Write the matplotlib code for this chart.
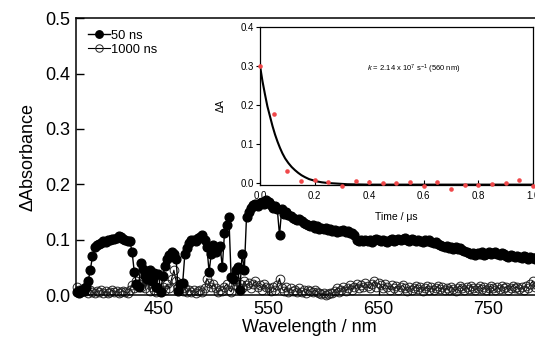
import numpy as np
import matplotlib
matplotlib.use("Agg")
import matplotlib.pyplot as plt

plt.rcParams['font.family'] = ['Liberation Sans', 'DejaVu Sans']
plt.rcParams['mathtext.fontset'] = 'custom'
plt.rcParams['mathtext.rm'] = 'Liberation Sans'
plt.rcParams['mathtext.it'] = 'Liberation Sans:italic'

# wavelength grid, nm
wavelength = np.arange(376, 796, 2)

# transient absorption 50 ns after excitation (rows of 10 points, 20 nm each)
abs_50ns = [
    0.005, 0.003, 0.010, 0.008, 0.015, 0.025, 0.045, 0.070, 0.087, 0.090,  # 376
    0.092, 0.095, 0.097, 0.096, 0.099, 0.100, 0.102, 0.101, 0.104, 0.106,  # 396
    0.105, 0.102, 0.100, 0.098, 0.097, 0.078, 0.042, 0.020, 0.015, 0.058,  # 416
    0.048, 0.035, 0.030, 0.045, 0.025, 0.040, 0.015, 0.038, 0.006, 0.035,  # 436
    0.052, 0.066, 0.073, 0.077, 0.075, 0.065, 0.008, 0.020, 0.022, 0.075,  # 456
    0.085, 0.095, 0.099, 0.100, 0.098, 0.103, 0.105, 0.108, 0.100, 0.087,  # 476
    0.042, 0.075, 0.090, 0.078, 0.085, 0.088, 0.051, 0.112, 0.126, 0.141,  # 496
    0.033, 0.030, 0.045, 0.051, 0.009, 0.075, 0.045, 0.141, 0.150, 0.158,  # 516
    0.162, 0.165, 0.160, 0.166, 0.168, 0.165, 0.171, 0.168, 0.163, 0.158,  # 536
    0.160, 0.155, 0.108, 0.155, 0.147, 0.150, 0.145, 0.142, 0.140, 0.138,  # 556
    0.135, 0.137, 0.133, 0.130, 0.128, 0.126, 0.124, 0.126, 0.122, 0.125,  # 576
    0.120, 0.122, 0.119, 0.121, 0.118, 0.120, 0.115, 0.117, 0.114, 0.116,  # 596
    0.115, 0.117, 0.114, 0.116, 0.113, 0.112, 0.108, 0.100, 0.098, 0.100,  # 616
    0.097, 0.099, 0.098, 0.100, 0.096, 0.099, 0.101, 0.099, 0.097, 0.100,  # 636
    0.098, 0.096, 0.099, 0.101, 0.098, 0.100, 0.102, 0.099, 0.101, 0.103,  # 656
    0.100, 0.098, 0.101, 0.099, 0.097, 0.100, 0.098, 0.096, 0.099, 0.097,  # 676
    0.099, 0.096, 0.094, 0.096, 0.093, 0.091, 0.089, 0.087, 0.088, 0.085,  # 696
    0.087, 0.084, 0.086, 0.083, 0.085, 0.082, 0.080, 0.078, 0.076, 0.074,  # 716
    0.076, 0.073, 0.076, 0.074, 0.077, 0.073, 0.075, 0.078, 0.074, 0.076,  # 736
    0.078, 0.075, 0.073, 0.076, 0.074, 0.071, 0.069, 0.072, 0.070, 0.068,  # 756
    0.071, 0.069, 0.067, 0.070, 0.068, 0.066, 0.069, 0.067, 0.065, 0.068,  # 776
]

# transient absorption 1000 ns after excitation
abs_1000ns = [
    0.015, 0.010, 0.005, 0.012, 0.008, 0.004, 0.010, 0.006, 0.003, 0.008,  # 376
    0.005, 0.010, 0.004, 0.007, 0.003, 0.006, 0.009, 0.005, 0.007, 0.004,  # 396
    0.006, 0.008, 0.005, 0.003, 0.009, 0.018, 0.012, 0.025, 0.020, 0.015,  # 416
    0.028, 0.012, 0.025, 0.008, 0.015, 0.010, 0.005, 0.012, 0.008, 0.015,  # 436
    0.010, 0.020, 0.012, 0.030, 0.045, 0.025, 0.015, 0.020, 0.008, 0.012,  # 456
    0.005, 0.010, 0.006, 0.009, 0.004, 0.008, 0.010, 0.006, 0.012, 0.030,  # 476
    0.022, 0.015, 0.020, 0.012, 0.006, 0.010, 0.008, 0.015, 0.020, 0.010,  # 496
    0.006, 0.018, 0.025, 0.015, 0.020, 0.012, 0.025, 0.018, 0.022, 0.012,  # 516
    0.020, 0.025, 0.015, 0.018, 0.010, 0.020, 0.015, 0.012, 0.008, 0.015,  # 536
    0.010, 0.018, 0.030, 0.012, 0.008, 0.015, 0.005, 0.012, 0.008, 0.010,  # 556
    0.005, 0.012, 0.006, 0.009, 0.004, 0.010, 0.007, 0.005, 0.010, 0.006,  # 576
    0.003, 0.002, 0.003, 0.001, 0.002, 0.004, 0.003, 0.008, 0.012, 0.006,  # 596
    0.010, 0.015, 0.008, 0.012, 0.018, 0.010, 0.015, 0.020, 0.012, 0.018,  # 616
    0.014, 0.022, 0.016, 0.012, 0.020, 0.025, 0.015, 0.022, 0.018, 0.012,  # 636
    0.020, 0.015, 0.010, 0.018, 0.012, 0.016, 0.010, 0.014, 0.018, 0.012,  # 656
    0.008, 0.015, 0.010, 0.013, 0.017, 0.011, 0.015, 0.008, 0.012, 0.016,  # 676
    0.010, 0.014, 0.009, 0.012, 0.016, 0.011, 0.014, 0.009, 0.013, 0.010,  # 696
    0.015, 0.011, 0.008, 0.013, 0.017, 0.012, 0.009, 0.014, 0.011, 0.016,  # 716
    0.012, 0.009, 0.013, 0.017, 0.011, 0.014, 0.010, 0.013, 0.016, 0.012,  # 736
    0.009, 0.014, 0.011, 0.016, 0.012, 0.015, 0.010, 0.013, 0.017, 0.012,  # 756
    0.015, 0.011, 0.014, 0.010, 0.016, 0.012, 0.020, 0.025, 0.015, 0.018,  # 776
]

# inset: decay at 560 nm
decay_t = [0.0, 0.05, 0.10, 0.15, 0.20, 0.25, 0.30, 0.35, 0.40, 0.45, 0.50,
           0.55, 0.60, 0.65, 0.70, 0.75, 0.80, 0.85, 0.90, 0.95, 1.00]
decay_dA = [0.300, 0.177, 0.033, 0.005, 0.009, 0.003, -0.007, 0.005, 0.003, 0.002, 0.001,
            0.003, -0.006, 0.004, -0.013, -0.004, -0.004, -0.001, 0.000, 0.008, -0.006]

# fitted curve
fit_t = [0.0, 0.009, 0.018, 0.027, 0.037, 0.046, 0.055, 0.064, 0.073, 0.082, 0.092, 0.104,
         0.116, 0.128, 0.140, 0.152, 0.165, 0.180, 0.195, 0.21, 0.226, 0.25, 0.275, 0.32,
         0.40, 0.55, 0.75, 1.0]
fit_dA = [0.300, 0.261, 0.228, 0.197, 0.170, 0.146, 0.125, 0.107, 0.091, 0.077, 0.064, 0.052,
          0.042, 0.034, 0.027, 0.021, 0.016, 0.011, 0.008, 0.005, 0.003, 0.001, 0.000, -0.002,
          -0.003, -0.003, -0.003, -0.003]

assert len(abs_50ns) == len(wavelength) == len(abs_1000ns)

fig = plt.figure(figsize=(5.35, 3.42), dpi=100)
ax = fig.add_axes([0.142, 0.137, 0.874, 0.81])

ax.plot(wavelength, abs_50ns, '-o', color='black', lw=1, ms=6.3,
        mfc='black', mec='black', label='50 ns', clip_on=False, zorder=3)
ax.plot(wavelength, abs_1000ns, '-o', color='black', lw=0.8, ms=6.3,
        mfc='none', mec='#222222', mew=0.7, label='1000 ns', clip_on=False, zorder=2)

ax.set_xlim(375, 800)
ax.set_ylim(0, 0.5)
ax.set_xticks([450, 550, 650, 750])
ax.set_yticks([0.0, 0.1, 0.2, 0.3, 0.4, 0.5])
ax.yaxis.set_major_formatter(matplotlib.ticker.FormatStrFormatter('%.1f'))
ax.tick_params(direction='in', length=6, width=1, labelsize=13, pad=4)
ax.set_xlabel('Wavelength / nm', fontsize=13, labelpad=1)
ax.set_ylabel('ΔAbsorbance', fontsize=13, labelpad=6)
for s in ax.spines.values():
    s.set_linewidth(1.1)

leg = ax.legend(loc='upper left', bbox_to_anchor=(0.0, 1.0), frameon=False, fontsize=9.3,
                handlelength=1.7, handletextpad=0.1, labelspacing=0.15, borderaxespad=0.5,
                markerscale=0.85)

# inset
ins = fig.add_axes([0.486, 0.459, 0.510, 0.463])
ins.plot(fit_t, fit_dA, '-', color='black', lw=1.5, zorder=2)
ins.plot(decay_t, decay_dA, 'o', color='#f0484a', ms=3.3, mec='none', clip_on=False, zorder=3)
ins.set_xlim(0, 1.0)
ins.set_ylim(-0.004, 0.4)
ins.set_xticks([0.0, 0.2, 0.4, 0.6, 0.8, 1.0])
ins.set_yticks([0.0, 0.1, 0.2, 0.3, 0.4])
ins.xaxis.set_major_formatter(matplotlib.ticker.FormatStrFormatter('%.1f'))
ins.yaxis.set_major_formatter(matplotlib.ticker.FormatStrFormatter('%.1f'))
ins.tick_params(axis='x', direction='in', length=3.5, labelsize=7, pad=4.5)
ins.tick_params(axis='y', direction='out', length=3, labelsize=7, pad=1)
ins.set_xlabel('Time / μs', fontsize=7.5, labelpad=8)
ins.set_ylabel('ΔA', fontsize=7, labelpad=11)
for s in ins.spines.values():
    s.set_linewidth(0.9)
ins.text(0.565, 0.29, r'$k$ = 2.14 x 10$^7$ s$^{-1}$ (560 nm)', fontsize=5.5,
         ha='center', va='center')

fig.savefig('out.png', dpi=100)
